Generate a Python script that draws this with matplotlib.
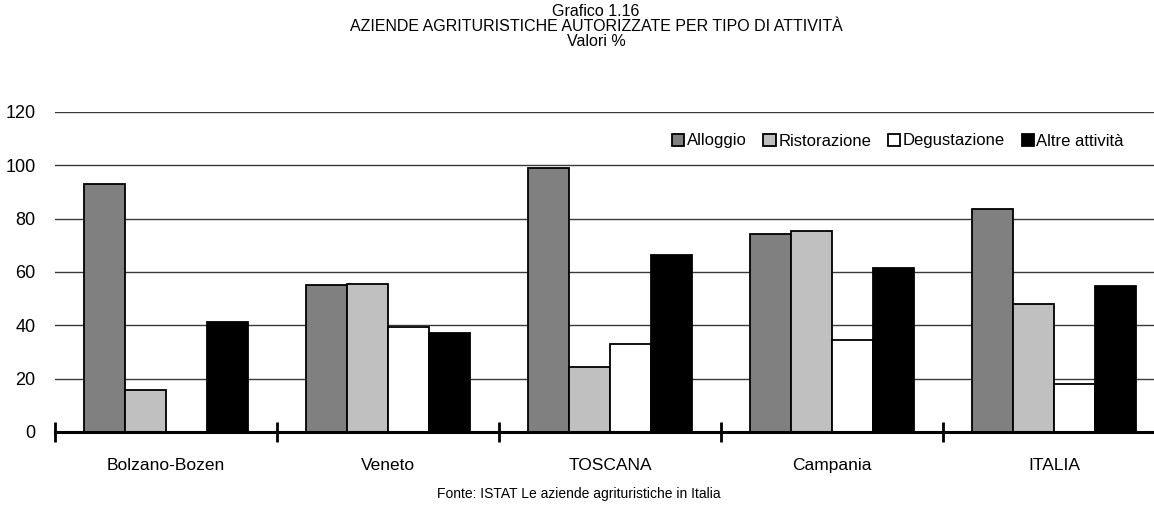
import matplotlib
matplotlib.use("Agg")
import matplotlib.pyplot as plt
import numpy as np

plt.rcParams["font.family"] = ["Liberation Sans", "DejaVu Sans"]

# data (percent)
regions = ["Bolzano-Bozen", "Veneto", "TOSCANA", "Campania", "ITALIA"]
series_names = ["Alloggio", "Ristorazione", "Degustazione", "Altre attività"]
alloggio = [93.1, 55.0, 99.1, 74.4, 83.5]
ristorazione = [15.6, 55.6, 24.4, 75.5, 47.9]
degustazione = [0.0, 39.4, 32.9, 34.4, 18.1]
altre = [41.2, 37.1, 66.5, 61.5, 54.7]
yticks = [0, 20, 40, 60, 80, 100, 120]
title_lines = ["Grafico 1.16",
               "AZIENDE AGRITURISTICHE AUTORIZZATE PER TIPO DI ATTIVITÀ",
               "Valori %"]

colors = ["#808080", "#c0c0c0", "#ffffff", "#000000"]

W, H = 1154, 512
fig = plt.figure(figsize=(W / 100, H / 100), dpi=100)
ax = fig.add_axes([55 / W, 1 - 432 / H, 1099 / W, 320 / H])

x = np.arange(len(regions))
bw = 0.185
for i, (vals, name) in enumerate(zip([alloggio, ristorazione, degustazione, altre], series_names)):
    ax.bar(x + (i - 1.5) * bw, vals, bw, color=colors[i], edgecolor="black",
           linewidth=1.3, label=name, zorder=3)

ax.set_xlim(-0.5, len(regions) - 0.55)
ax.set_ylim(0, 120)
ax.set_yticks(yticks)
ax.yaxis.grid(True, color="#3a3a3a", linewidth=1.0, zorder=0)
ax.tick_params(axis="y", length=0, pad=14, labelsize=13)

# group boundary marks on the x axis, labels at group centres
ax.set_xticks(x)
ax.set_xticklabels(regions)
ax.tick_params(axis="x", which="major", length=0, pad=19, labelsize=12.5)
ax.set_xticks(np.arange(len(regions)) - 0.5, minor=True)
ax.tick_params(axis="x", which="minor", direction="inout", length=15, width=2)

for s in ["left", "right", "top"]:
    ax.spines[s].set_visible(False)
ax.spines["bottom"].set_linewidth(2.2)
ax.spines["bottom"].set_zorder(4)

ax.legend(loc="center right", bbox_to_anchor=(1124 / W, 1 - 141 / H),
          bbox_transform=fig.transFigure, ncol=4, frameon=False, fontsize=12,
          handlelength=0.75, handleheight=0.75, handletextpad=0.15,
          columnspacing=1.0, borderpad=0, borderaxespad=0)

# title block, one line at a time (15 px apart)
for k, line in enumerate(title_lines):
    fig.text(596 / W, 1 - (16 + 15 * k) / H, line, ha="center", va="baseline",
             fontsize=11.5)
fig.text(579 / W, 1 - 494 / H, "Fonte: ISTAT Le aziende agrituristiche in Italia",
         ha="center", va="center", fontsize=10)

fig.savefig("out.png", dpi=100)
